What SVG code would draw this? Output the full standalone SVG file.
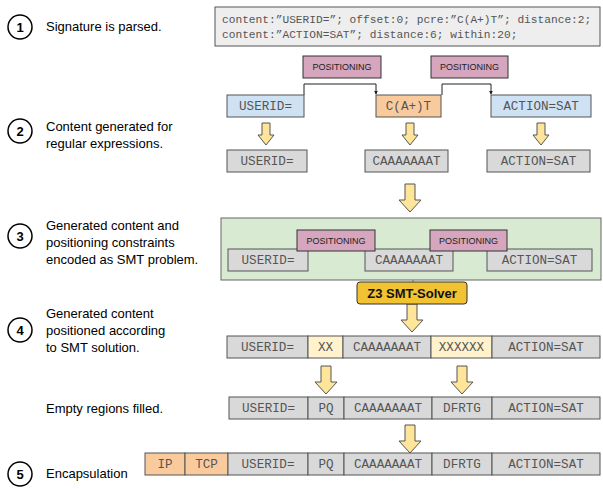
<svg xmlns="http://www.w3.org/2000/svg" width="603" height="489" viewBox="0 0 603 489">
<style>
.lbl{font-family:"Liberation Sans",Arial,sans-serif;font-size:13px;fill:#000}
.num{font-family:"Liberation Sans",Arial,sans-serif;font-size:13px;font-weight:bold;fill:#000;text-anchor:middle}
.circ{fill:#fff;stroke:#000;stroke-width:1.5}
.mono{font-family:"Liberation Mono","Courier New",monospace;font-size:12.6px;fill:#555;text-anchor:middle}
.code{font-family:"Liberation Mono","Courier New",monospace;font-size:11.2px;fill:#555}
.pos rect{fill:#d5a6bd;stroke:#333;stroke-width:1}
.pos text{font-family:"Liberation Sans",Arial,sans-serif;font-size:9px;fill:#222;text-anchor:middle}
.gray{fill:#d9d9d9;stroke:#555;stroke-width:1}
.blue{fill:#cfe2f3;stroke:#555;stroke-width:1}
.orange{fill:#f9cb9c;stroke:#555;stroke-width:1}
.ylight{fill:#fff2cc;stroke:#555;stroke-width:1}
.arr{fill:#ffe599;stroke:#555;stroke-width:1}
.conn{fill:none;stroke:#222;stroke-width:1}
</style>
<defs>
<marker id="ah" viewBox="0 0 6 6" refX="5" refY="3" markerWidth="4" markerHeight="4" orient="auto"><path d="M0,0 L6,3 L0,6 Z" fill="#222"/></marker>
<path id="sarr" d="M-4,0 H4 V12 H8 L0,22 L-8,12 H-4 Z"/>
<path id="barr" d="M-5,0 H5 V16 H11 L0,28 L-11,16 H-5 Z"/>
</defs>

<g id="step1">
<circle class="circ" cx="20" cy="27" r="12"/><text class="num" x="20" y="32">1</text>
<text class="lbl" x="46" y="31">Signature is parsed.</text>
</g>
<g id="step2">
<circle class="circ" cx="20" cy="131" r="12"/><text class="num" x="20" y="136">2</text>
<text class="lbl" x="46" y="131">Content generated for</text>
<text class="lbl" x="46" y="148">regular expressions.</text>
</g>
<g id="step3">
<circle class="circ" cx="20" cy="236" r="12"/><text class="num" x="20" y="241">3</text>
<text class="lbl" x="46" y="230">Generated content and</text>
<text class="lbl" x="46" y="247">positioning constraints</text>
<text class="lbl" x="46" y="264">encoded as SMT problem.</text>
</g>
<g id="step4">
<circle class="circ" cx="20" cy="330" r="12"/><text class="num" x="20" y="335">4</text>
<text class="lbl" x="46" y="318">Generated content</text>
<text class="lbl" x="46" y="335">positioned according</text>
<text class="lbl" x="46" y="352">to SMT solution.</text>
</g>
<g id="stepfill">
<text class="lbl" x="46" y="413">Empty regions filled.</text>
</g>
<g id="step5">
<circle class="circ" cx="20" cy="474" r="12"/><text class="num" x="20" y="479">5</text>
<text class="lbl" x="46" y="478">Encapsulation</text>
</g>

<g id="signature">
<rect x="215" y="7" width="385" height="39" fill="#eeeeee" stroke="#555" stroke-width="1"/>
<text class="code" x="222" y="23">content:”USERID=”; offset:0; pcre:”C(A+)T”; distance:2;</text>
<text class="code" x="222" y="38">content:”ACTION=SAT”; distance:6; within:20;</text>
</g>

<g id="connectors">
<path class="conn" d="M304,95 V84 H376 V94" marker-end="url(#ah)"/>
<path class="conn" d="M442,95 V84 H491 V94" marker-end="url(#ah)"/>
<line x1="413" y1="280" x2="413" y2="285" stroke="#888" stroke-width="1"/>
<use href="#sarr" class="arr" x="266" y="123"/>
<use href="#sarr" class="arr" x="410" y="123"/>
<use href="#sarr" class="arr" x="541" y="123"/>
<use href="#barr" class="arr" x="410" y="184"/>
<use href="#barr" class="arr" x="412" y="304"/>
<use href="#barr" class="arr" x="326" y="366"/>
<use href="#barr" class="arr" x="462" y="366"/>
<use href="#barr" class="arr" x="410" y="425"/>
</g>

<g id="pos1" class="pos"><rect x="303" y="56" width="78" height="22"/><text x="342" y="70">POSITIONING</text></g>
<g id="pos2" class="pos"><rect x="431" y="56" width="77" height="22"/><text x="469.5" y="70">POSITIONING</text></g>

<g id="re-userid"><rect class="blue" x="227" y="95" width="77" height="22"/><text class="mono" x="265.5" y="110">USERID=</text></g>
<g id="re-pcre"><rect class="orange" x="376" y="95" width="65" height="22"/><text class="mono" x="408.5" y="110">C(A+)T</text></g>
<g id="re-action"><rect class="blue" x="491" y="95" width="100" height="22"/><text class="mono" x="541" y="110">ACTION=SAT</text></g>

<g id="gen-userid"><rect class="gray" x="227" y="150" width="80" height="22"/><text class="mono" x="267" y="165">USERID=</text></g>
<g id="gen-caaa"><rect class="gray" x="365" y="150" width="83" height="22"/><text class="mono" x="406.5" y="165">CAAAAAAAT</text></g>
<g id="gen-action"><rect class="gray" x="487" y="150" width="103" height="22"/><text class="mono" x="538.5" y="165">ACTION=SAT</text></g>

<g id="smt-problem">
<rect x="221" y="218" width="380" height="62" fill="#d9ead3" stroke="#666" stroke-width="1"/>
<rect class="gray" x="228" y="249" width="80" height="22"/><text class="mono" x="268" y="264">USERID=</text>
<rect class="gray" x="365" y="249" width="88" height="22"/><text class="mono" x="409" y="264">CAAAAAAAT</text>
<rect class="gray" x="487" y="249" width="105" height="22"/><text class="mono" x="539.5" y="264">ACTION=SAT</text>
<g class="pos"><rect x="297" y="230" width="78" height="21"/><text x="336" y="244">POSITIONING</text></g>
<g class="pos"><rect x="430" y="230" width="77" height="21"/><text x="468.5" y="244">POSITIONING</text></g>
</g>

<g id="z3">
<rect x="357" y="282" width="110" height="22" rx="3" fill="#f1c232" stroke="#333" stroke-width="1"/>
<text x="412" y="298" font-family="Liberation Sans,Arial,sans-serif" font-size="13" font-weight="bold" text-anchor="middle" fill="#111">Z3 SMT-Solver</text>
</g>

<g id="solution">
<rect class="gray" x="227" y="336" width="81" height="22"/><text class="mono" x="267.5" y="351">USERID=</text>
<rect class="ylight" x="308" y="336" width="35" height="22"/><text class="mono" x="325.5" y="351">XX</text>
<rect class="gray" x="343" y="336" width="88" height="22"/><text class="mono" x="387" y="351">CAAAAAAAT</text>
<rect class="ylight" x="431" y="336" width="61" height="22"/><text class="mono" x="461.5" y="351">XXXXXX</text>
<rect class="gray" x="492" y="336" width="108" height="22"/><text class="mono" x="546" y="351">ACTION=SAT</text>
</g>

<g id="filled">
<rect class="gray" x="229" y="397" width="79" height="22"/><text class="mono" x="268.5" y="412">USERID=</text>
<rect class="gray" x="308" y="397" width="36" height="22"/><text class="mono" x="326" y="412">PQ</text>
<rect class="gray" x="344" y="397" width="88" height="22"/><text class="mono" x="388" y="412">CAAAAAAAT</text>
<rect class="gray" x="432" y="397" width="60" height="22"/><text class="mono" x="462" y="412">DFRTG</text>
<rect class="gray" x="492" y="397" width="108" height="22"/><text class="mono" x="546" y="412">ACTION=SAT</text>
</g>

<g id="packet">
<rect class="orange" x="145" y="453" width="40" height="22"/><text class="mono" x="165" y="468">IP</text>
<rect class="orange" x="185" y="453" width="43" height="22"/><text class="mono" x="206.5" y="468">TCP</text>
<rect class="gray" x="228" y="453" width="80" height="22"/><text class="mono" x="268" y="468">USERID=</text>
<rect class="gray" x="308" y="453" width="36" height="22"/><text class="mono" x="326" y="468">PQ</text>
<rect class="gray" x="344" y="453" width="88" height="22"/><text class="mono" x="388" y="468">CAAAAAAAT</text>
<rect class="gray" x="432" y="453" width="60" height="22"/><text class="mono" x="462" y="468">DFRTG</text>
<rect class="gray" x="492" y="453" width="108" height="22"/><text class="mono" x="546" y="468">ACTION=SAT</text>
</g>
</svg>
